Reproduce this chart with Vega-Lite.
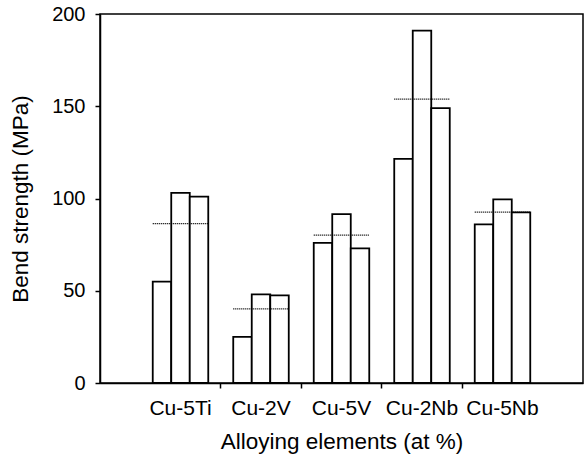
{
  "$schema": "https://vega.github.io/schema/vega-lite/v6.json",
  "width": 483,
  "height": 369,
  "autosize": {"type": "none"},
  "padding": {"left": 100, "top": 14, "right": 1, "bottom": 74},
  "background": "white",
  "config": {
    "font": "Liberation Sans",
    "view": {"stroke": "black", "strokeWidth": 1.5},
    "axis": {
      "domainColor": "black",
      "domainWidth": 1.5,
      "tickColor": "black",
      "tickWidth": 1.5,
      "tickSize": 5,
      "labelColor": "black",
      "titleColor": "black",
      "labelFont": "Liberation Sans",
      "titleFont": "Liberation Sans",
      "labelFontSize": 20,
      "titleFontSize": 22.5,
      "titleFontWeight": "normal",
      "grid": false
    }
  },
  "data": {
    "values": [
      {"alloy": "Cu-5Ti", "sample": 1, "strength": 55},
      {"alloy": "Cu-5Ti", "sample": 2, "strength": 103},
      {"alloy": "Cu-5Ti", "sample": 3, "strength": 101},
      {"alloy": "Cu-2V", "sample": 1, "strength": 25},
      {"alloy": "Cu-2V", "sample": 2, "strength": 48},
      {"alloy": "Cu-2V", "sample": 3, "strength": 47.5},
      {"alloy": "Cu-5V", "sample": 1, "strength": 76},
      {"alloy": "Cu-5V", "sample": 2, "strength": 91.5},
      {"alloy": "Cu-5V", "sample": 3, "strength": 73},
      {"alloy": "Cu-2Nb", "sample": 1, "strength": 121.5},
      {"alloy": "Cu-2Nb", "sample": 2, "strength": 191},
      {"alloy": "Cu-2Nb", "sample": 3, "strength": 149},
      {"alloy": "Cu-5Nb", "sample": 1, "strength": 86},
      {"alloy": "Cu-5Nb", "sample": 2, "strength": 99.5},
      {"alloy": "Cu-5Nb", "sample": 3, "strength": 92.5}
    ]
  },
  "encoding": {
    "x": {
      "field": "alloy",
      "type": "nominal",
      "sort": ["Cu-5Ti", "Cu-2V", "Cu-5V", "Cu-2Nb", "Cu-5Nb"],
      "scale": {"paddingInner": 0, "paddingOuter": 0.5},
      "axis": {
        "title": "Alloying elements (at %)",
        "labelAngle": 0,
        "bandPosition": 0,
        "labelFontSize": 21,
        "labelPadding": 9,
        "titlePadding": 12,
        "tickColor": {"condition": {"test": "datum.value === 'Cu-5Ti'", "value": "transparent"}, "value": "black"}
      }
    }
  },
  "layer": [
    {
      "mark": {"type": "bar", "fill": "white", "stroke": "black", "strokeWidth": 1.8},
      "encoding": {
        "xOffset": {"field": "sample", "type": "nominal", "scale": {"paddingInner": 0, "paddingOuter": 0.675}},
        "y": {
          "field": "strength",
          "type": "quantitative",
          "scale": {"domain": [0, 200], "nice": false},
          "axis": {
            "title": "Bend strength (MPa)",
            "values": [0, 50, 100, 150, 200],
            "labelPadding": 10,
            "titlePadding": 19
          }
        }
      }
    },
    {
      "mark": {"type": "bar", "width": {"band": 0.69}, "fill": "transparent", "stroke": "black", "strokeWidth": 1.2, "strokeDash": [1, 1]},
      "encoding": {
        "y": {"aggregate": "mean", "field": "strength", "type": "quantitative"},
        "y2": {"aggregate": "mean", "field": "strength"}
      }
    }
  ]
}
